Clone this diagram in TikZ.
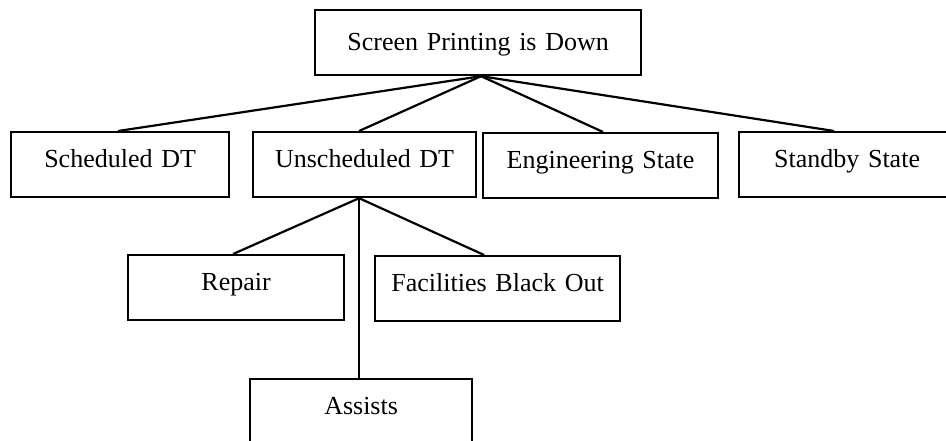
\documentclass[tikz,border=0pt]{standalone}
\usepackage{fontspec}
\setmainfont[WordSpace=0.8]{Liberation Serif}
\usetikzlibrary{calc}
\tikzset{
  box/.style={draw, line width=2.2pt, rectangle, inner sep=0pt, anchor=north west,
    align=center, text height=35pt, text depth=30pt,
    font=\fontsize{26}{30}\selectfont},
  link/.style={line width=2.2pt}
}
\begin{document}
\begin{tikzpicture}[x=1pt, y=-1pt]
  \useasboundingbox (0,0) rectangle (946,441);
  \clip (0,0) rectangle (946,441);

  % root of the tree
  \node[box, text width=326pt, text height=40pt, text depth=25pt] (root) at (314,9) {Screen Printing is Down};

  % first level
  \node[box, text width=218pt] (sched) at (10,131) {Scheduled DT};
  \node[box, text width=223pt] (unsch) at (252,131) {Unscheduled DT};
  \node[box, text width=235pt] (eng) at (482,132) {Engineering State};
  \node[box, text width=216pt] (stby) at (738,131) {Standby State};

  % second level under Unscheduled DT
  \node[box, text width=216pt] (repair) at (127,254) {Repair};
  \node[box, text width=245pt] (fac) at (374,255) {Facilities Black Out};
  \node[box, text width=222pt] (assist) at (249,378) {Assists};

  % branching points
  \coordinate (apex) at ($(root.south)+(3,0)$);
  \coordinate (fork) at ($(unsch.south)+(-5.5,0)$);

  \draw[link] (apex) -- ($(sched.north)+(-2,0)$);
  \draw[link] (apex) -- ($(unsch.north)+(-5.5,0)$);
  \draw[link] (apex) -- ($(eng.north)+(2.5,0)$);
  \draw[link] (apex) -- ($(stby.north)+(-13,0)$);

  \draw[link] (fork) -- ($(repair.north)+(-3,0)$);
  \draw[link] (fork) -- ($(fac.north)+(-13.5,0)$);
  \draw[link] (fork) -- ($(assist.north)+(-2,0)$);
\end{tikzpicture}
\end{document}
